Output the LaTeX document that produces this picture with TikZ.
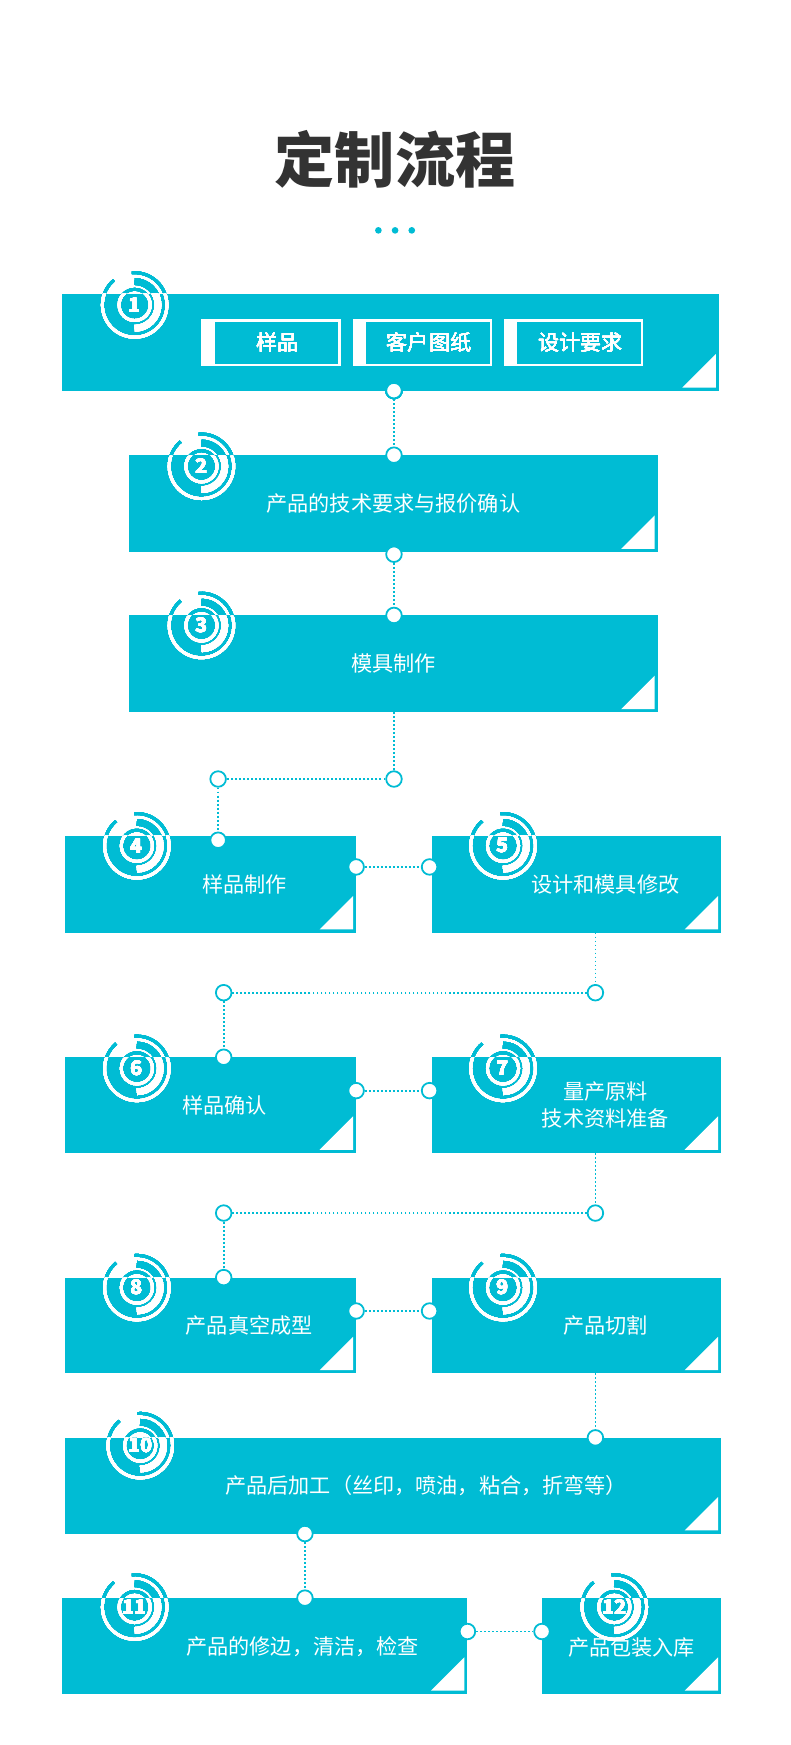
\documentclass[tikz,border=0pt]{standalone}
\usepackage{fontspec}
\setmainfont{Noto Sans CJK SC}
\usetikzlibrary{positioning}
\definecolor{cyanbox}{RGB}{0,188,212}
\definecolor{titlegray}{RGB}{51,51,51}
\tikzset{
  box/.style={fill=cyanbox,draw=none,inner sep=0pt,text=white,font=\fontsize{19}{24}\selectfont,align=center},
  dotc/.style={circle,fill=white,draw=cyanbox,line width=1.6pt,minimum size=14pt,inner sep=0pt},
  link/.style={cyanbox,line width=1.6pt,dotted},
  sub/.style={draw=white,line width=2pt,minimum width=123pt,minimum height=40pt,inner sep=0pt},
}
% badge drawn twice: cyan over white, white over cyan
\newcommand\badgeshape[3]{%
  \draw[line width=2.6pt] (#1,#2) ++(130:29pt) arc (130:455:29pt);
  \draw[line width=6pt] (#1,#2) ++(90:21pt) arc (90:-90:21pt);
  \draw[line width=2.6pt] (#1,#2) circle[radius=14pt];
  \node[font=\fontsize{18}{20}\selectfont\bfseries] at (#1,#2) {#3};}
\newcommand\badge[4]{%
  \begin{scope}\clip (#1-40,#4) rectangle (#1+40,#2-40);
    \begin{scope}[cyanbox,text=cyanbox]\badgeshape{#1}{#2}{#3}\end{scope}\end{scope}
  \begin{scope}\clip (#1-40,#4) rectangle (#1+40,#2+40);
    \begin{scope}[white,text=white]\badgeshape{#1}{#2}{#3}\end{scope}\end{scope}}
\newcommand\fold[1]{%
  \fill[white] ([shift={(-3pt,3pt)}]#1.south east) -- ++(0,30pt) -- ++(-30pt,-30pt) -- cycle;}
\begin{document}
\begin{tikzpicture}[x=1pt,y=-1pt]
\useasboundingbox (0,0) rectangle (710,1568);
\node[font=\fontsize{54}{60}\selectfont\bfseries,text=titlegray] (title) at (355,143) {定制流程};
\foreach \x in {340,355,370} \fill[cyanbox] (\x,207) circle[radius=3pt];
%% boxes
\node[box,minimum width=590pt,minimum height=87pt] (b1) at (351,307.5) {};
\node[box,minimum width=475pt,minimum height=87pt] (b2) at (353.5,452.5) {产品的技术要求与报价确认};
\node[box,minimum width=475pt,minimum height=87pt] (b3) at (353.5,596.5) {模具制作};
\node[box,minimum width=262pt,minimum height=87pt] (b4) at (189,794.5) {\hspace*{62pt}样品制作};
\node[box,minimum width=260pt,minimum height=87pt] (b5) at (518,794.5) {\hspace*{52pt}设计和模具修改};
\node[box,minimum width=262pt,minimum height=86pt] (b6) at (189,993) {\hspace*{26pt}样品确认};
\node[box,minimum width=260pt,minimum height=86pt] (b7) at (518,993) {\hspace*{52pt}量产原料\\\hspace*{52pt}技术资料准备};
\node[box,minimum width=262pt,minimum height=86pt] (b8) at (189,1191) {\hspace*{70pt}产品真空成型};
\node[box,minimum width=260pt,minimum height=86pt] (b9) at (518,1191) {\hspace*{52pt}产品切割};
\node[box,minimum width=590pt,minimum height=86pt] (b10) at (353,1335) {\hspace*{60pt}产品后加工（丝印，喷油，粘合，折弯等）};
\node[box,minimum width=364pt,minimum height=86pt] (b11) at (238,1479) {\raisebox{-18pt}{\hspace*{68pt}产品的修边，清洁，检查}};
\node[box,minimum width=161pt,minimum height=86pt] (b12) at (567.5,1479) {\raisebox{-18pt}{产品包装入库}};
\foreach \b in {b1,b2,b3,b4,b5,b6,b7,b8,b9,b10,b11,b12} \fold{\b}
%% sub boxes of step 1
\foreach \x/\t [count=\i] in {243.5/样品,379.5/客户图纸,515.5/设计要求} {
  \node[sub] (s\i) at (\x,308) {};
  \fill[white] (s\i.north west) rectangle ++(12,40);
  \node[text=white,font=\fontsize{19}{24}\selectfont] at ([xshift=6pt]s\i.center) {\t};
}
%% badges
\badge{121}{274}{1}{264}
\badge{181}{419}{2}{409}
\badge{181}{562}{3}{553}
\badge{123}{760}{4}{751}
\badge{452}{760}{5}{751}
\badge{123}{960}{6}{950}
\badge{452}{960}{7}{950}
\badge{123}{1157}{8}{1148}
\badge{452}{1157}{9}{1148}
\badge{126}{1299}{10}{1292}
\badge{121}{1444}{11}{1436}
\badge{552}{1444}{12}{1436}
%% connectors
\node[dotc] (p1) at (354,351) {};
\node[dotc] (p2) at (354,409) {};
\node[dotc] (p3) at (354,498) {};
\node[dotc] (p4) at (354,553) {};
\coordinate (p5) at (354,640);
\node[dotc] (p6) at (354,700) {};
\node[dotc] (p7) at (196,700) {};
\node[dotc] (p8) at (196,755) {};
\node[dotc] (p9) at (320,779) {};
\node[dotc] (p10) at (386,779) {};
\coordinate (p11) at (535,838);
\node[dotc] (p12) at (535,892) {};
\node[dotc] (p13) at (201,892) {};
\node[dotc] (p14) at (201,950) {};
\node[dotc] (p15) at (320,980) {};
\node[dotc] (p16) at (386,980) {};
\coordinate (p17) at (535,1036);
\node[dotc] (p18) at (535,1090) {};
\node[dotc] (p19) at (201,1090) {};
\node[dotc] (p20) at (201,1148) {};
\node[dotc] (p21) at (320,1178) {};
\node[dotc] (p22) at (386,1178) {};
\coordinate (p23) at (535,1234);
\node[dotc] (p24) at (535,1292) {};
\node[dotc] (p25) at (274,1378) {};
\node[dotc] (p26) at (274,1436) {};
\node[dotc] (p27) at (420,1466) {};
\node[dotc] (p28) at (487,1466) {};
\draw[link] (p1) -- (p2);
\draw[link] (p3) -- (p4);
\draw[link] (p5) -- (p6) -- (p7) -- (p8);
\draw[link] (p9) -- (p10);
\draw[link] (p11) -- (p12) -- (p13) -- (p14);
\draw[link] (p15) -- (p16);
\draw[link] (p17) -- (p18) -- (p19) -- (p20);
\draw[link] (p21) -- (p22);
\draw[link] (p23) -- (p24);
\draw[link] (p25) -- (p26);
\draw[link] (p27) -- (p28);
\end{tikzpicture}
\end{document}
